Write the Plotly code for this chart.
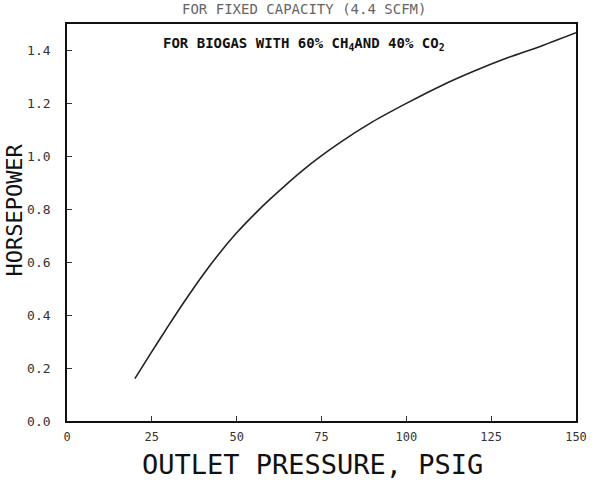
import plotly.graph_objects as go

pressure_psig = [20, 25, 30, 35, 40, 45, 50, 55, 60, 70, 80, 90, 100, 110, 120, 130, 140, 150]
horsepower = [0.16, 0.262, 0.362, 0.459, 0.551, 0.635, 0.711, 0.778, 0.84, 0.953, 1.048, 1.13, 1.2,
              1.265, 1.322, 1.373, 1.418, 1.467]

x_ticks = [0, 25, 50, 75, 100, 125, 150]
x_tick_labels = ["0", "25", "50", "75", "100", "125", "150"]
y_ticks = [0.0, 0.2, 0.4, 0.6, 0.8, 1.0, 1.2, 1.4]
y_tick_labels = ["0.0", "0.2", "0.4", "0.6", "0.8", "1.0", "1.2", "1.4"]

title_text = "FOR FIXED CAPACITY (4.4 SCFM)"
note_text = "FOR BIOGAS WITH 60% CH<sub>4</sub>AND 40% CO<sub>2</sub>"
x_title = "OUTLET PRESSURE, PSIG"
y_title = "HORSEPOWER"

mono = "DejaVu Sans Mono"

fig = go.Figure()
fig.add_trace(go.Scatter(
    x=pressure_psig, y=horsepower, mode="lines",
    line=dict(color="#222222", width=1.6, shape="spline", smoothing=0.8),
    showlegend=False, hoverinfo="skip"))

fig.update_layout(
    width=599, height=480,
    margin=dict(l=67, r=14, t=24, b=59),
    paper_bgcolor="white", plot_bgcolor="white",
    font=dict(family=mono, color="#222222"),
    showlegend=False,
)

fig.update_xaxes(
    range=[0, 150], tickmode="array", tickvals=x_ticks, ticktext=x_tick_labels,
    ticks="inside", ticklen=5, tickwidth=1, tickcolor="#333333",
    showline=True, linecolor="#111111", linewidth=2, mirror=True,
    showgrid=False, zeroline=False,
    tickfont=dict(family=mono, size=12, color="#333333"),
    ticklabelstandoff=4,
)
fig.update_yaxes(
    range=[0, 1.5], tickmode="array", tickvals=y_ticks, ticktext=y_tick_labels,
    ticks="inside", ticklen=5, tickwidth=1, tickcolor="#333333",
    showline=True, linecolor="#111111", linewidth=1.6, mirror=True,
    showgrid=False, zeroline=False,
    tickfont=dict(family=mono, size=13, color="#333333"),
    ticklabelstandoff=12,
)

fig.add_annotation(text=title_text, xref="paper", yref="paper", x=0.465, y=1.0,
                   yshift=15, xanchor="center", yanchor="middle", showarrow=False,
                   font=dict(family=mono, size=14, color="#666666"))
fig.add_annotation(text="<b>" + note_text + "</b>", xref="paper", yref="paper", x=0.465,
                   y=0.95, xanchor="center", yanchor="middle", showarrow=False,
                   font=dict(family=mono, size=14, color="#111111"))
fig.add_annotation(text=x_title, xref="paper", yref="paper", x=0.483, y=0, yshift=-43,
                   xanchor="center", yanchor="middle", showarrow=False,
                   font=dict(family=mono, size=27, color="#111111"))
fig.add_annotation(text=y_title, xref="paper", yref="paper", x=0, xshift=-52, y=0.53,
                   textangle=-90, xanchor="center", yanchor="middle", showarrow=False,
                   font=dict(family=mono, size=22, color="#111111"))

fig.write_html("out.html")
